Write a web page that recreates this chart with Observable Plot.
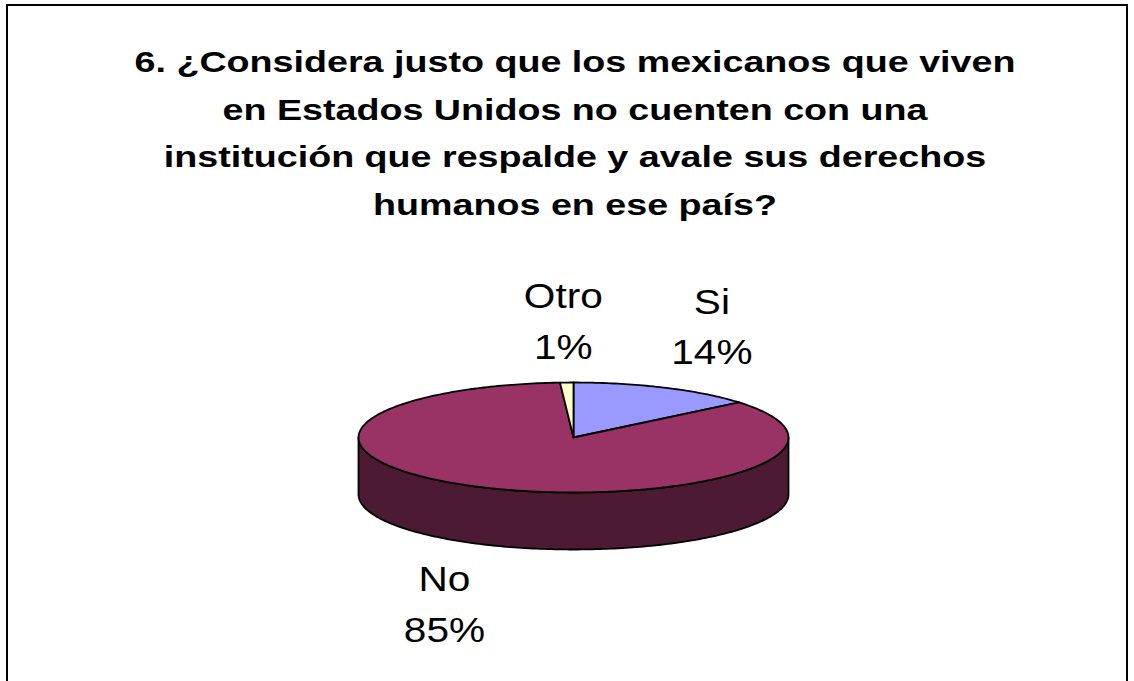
<!DOCTYPE html>
<html>
<head>
<meta charset="utf-8">
<script src="https://cdn.jsdelivr.net/npm/d3@7"></script>
<script src="https://cdn.jsdelivr.net/npm/@observablehq/plot@0.6"></script>
<style>
  html, body { margin: 0; padding: 0; background: #fff; overflow: hidden; }
  #frame { position: absolute; left: 6px; top: 4px; width: 1118px; height: 700px; border: 2px solid #000; }
  #title { margin: 0; padding: 32px 0 0 16px; height: 190px; font: bold 30px "Liberation Sans", Arial, sans-serif;
           line-height: 47.5px; text-align: center; color: #000;
           transform: scaleX(1.255); transform-origin: 567px 0; }
  #chart svg { display: block; }
</style>
</head>
<body>
<div id="frame">
  <div id="title">6. ¿Considera justo que los mexicanos que viven<br>en Estados Unidos no cuenten con una<br>institución que respalde y avale sus derechos<br>humanos en ese país?</div>
  <div id="chart"></div>
</div>
<script>
// ---- data ----
const categories = ["Si", "No", "Otro"];
const shares = [14, 85, 1];
const labelTexts = ["Si\n14%", "No\n85%", "Otro\n1%"];

// ---- styles ----
const topColors = ["#9999FF", "#993366", "#FFFFCC"];
const sideColors = ["#4D4D80", "#4D1A33", "#808066"];

// ---- geometry derived from the data ----
const DEPTH = 57 / 55;          // pie thickness in y-units (1 unit = vertical radius)
const rad = d => d * Math.PI / 180;
const total = d3.sum(shares);
let acc = 0;
const slices = categories.map((c, i) => {
  const a0 = acc / total * 360; acc += shares[i];
  const a1 = acc / total * 360;
  return { key: c, a0, a1, label: labelTexts[i] };
});
function arc(a0, a1, drop = 0) {
  const n = Math.max(2, Math.ceil(Math.abs(a1 - a0)));
  return d3.range(n + 1).map(k => {
    const t = rad(a0 + (a1 - a0) * k / n);
    return [Math.sin(t), Math.cos(t) - drop];
  });
}
const topRows = [], sideRows = [], labelRows = [];
slices.forEach(s => {
  [[0, 0], ...arc(s.a0, s.a1), [0, 0]].forEach(([x, y]) => topRows.push({ key: s.key, x, y }));
  const a = Math.max(s.a0, 90), b = Math.min(s.a1, 270);
  if (b > a) {
    const p = [...arc(a, b), ...arc(b, a, DEPTH)];
    p.push(p[0]);
    p.forEach(([x, y]) => sideRows.push({ key: s.key + " side", x, y }));
  }
  const mid = (s.a0 + s.a1) / 2;
  const sx = Math.sin(rad(mid)), cy = Math.cos(rad(mid));
  const ex = sx, ey = cy - (cy < 0 ? DEPTH : 0);
  labelRows.push({ key: s.key, text: s.label, x: ex + sx * 110 / 215, y: ey + (cy >= 0 ? 1 : -1) * 60 / 55 });
});

const chart = Plot.plot({
  width: 1118,
  height: 460,
  marginLeft: 350,
  marginRight: 338,
  marginTop: 154,
  marginBottom: 196,
  x: { domain: [-1, 1], axis: null },
  y: { domain: [-1, 1], axis: null },
  color: {
    domain: [...categories, ...categories.map(c => c + " side")],
    range: [...topColors, ...sideColors]
  },
  style: { background: "transparent", overflow: "visible" },
  marks: [
    Plot.line(sideRows, { x: "x", y: "y", z: "key", fill: "key", stroke: "#000", strokeWidth: 1.8, curve: "linear" }),
    Plot.line(topRows, { x: "x", y: "y", z: "key", fill: "key", stroke: "#000", strokeWidth: 1.8, curve: "linear", strokeLinejoin: "round" }),
    Plot.text(labelRows, { x: "x", y: "y", text: "text", fontSize: 35, lineHeight: 1.45, textAnchor: "middle", dy: -5,
                           lineAnchor: "middle", fontFamily: "Liberation Sans, Arial, sans-serif", fill: "#000" })
  ]
});
// widen the label glyphs horizontally like the original rendering
chart.querySelectorAll("text").forEach(el => {
  const t = el.getAttribute("transform");
  if (t && t.includes("translate")) el.setAttribute("transform", t + " scale(1.16,1)");
});
document.getElementById("chart").appendChild(chart);
</script>
</body>
</html>
